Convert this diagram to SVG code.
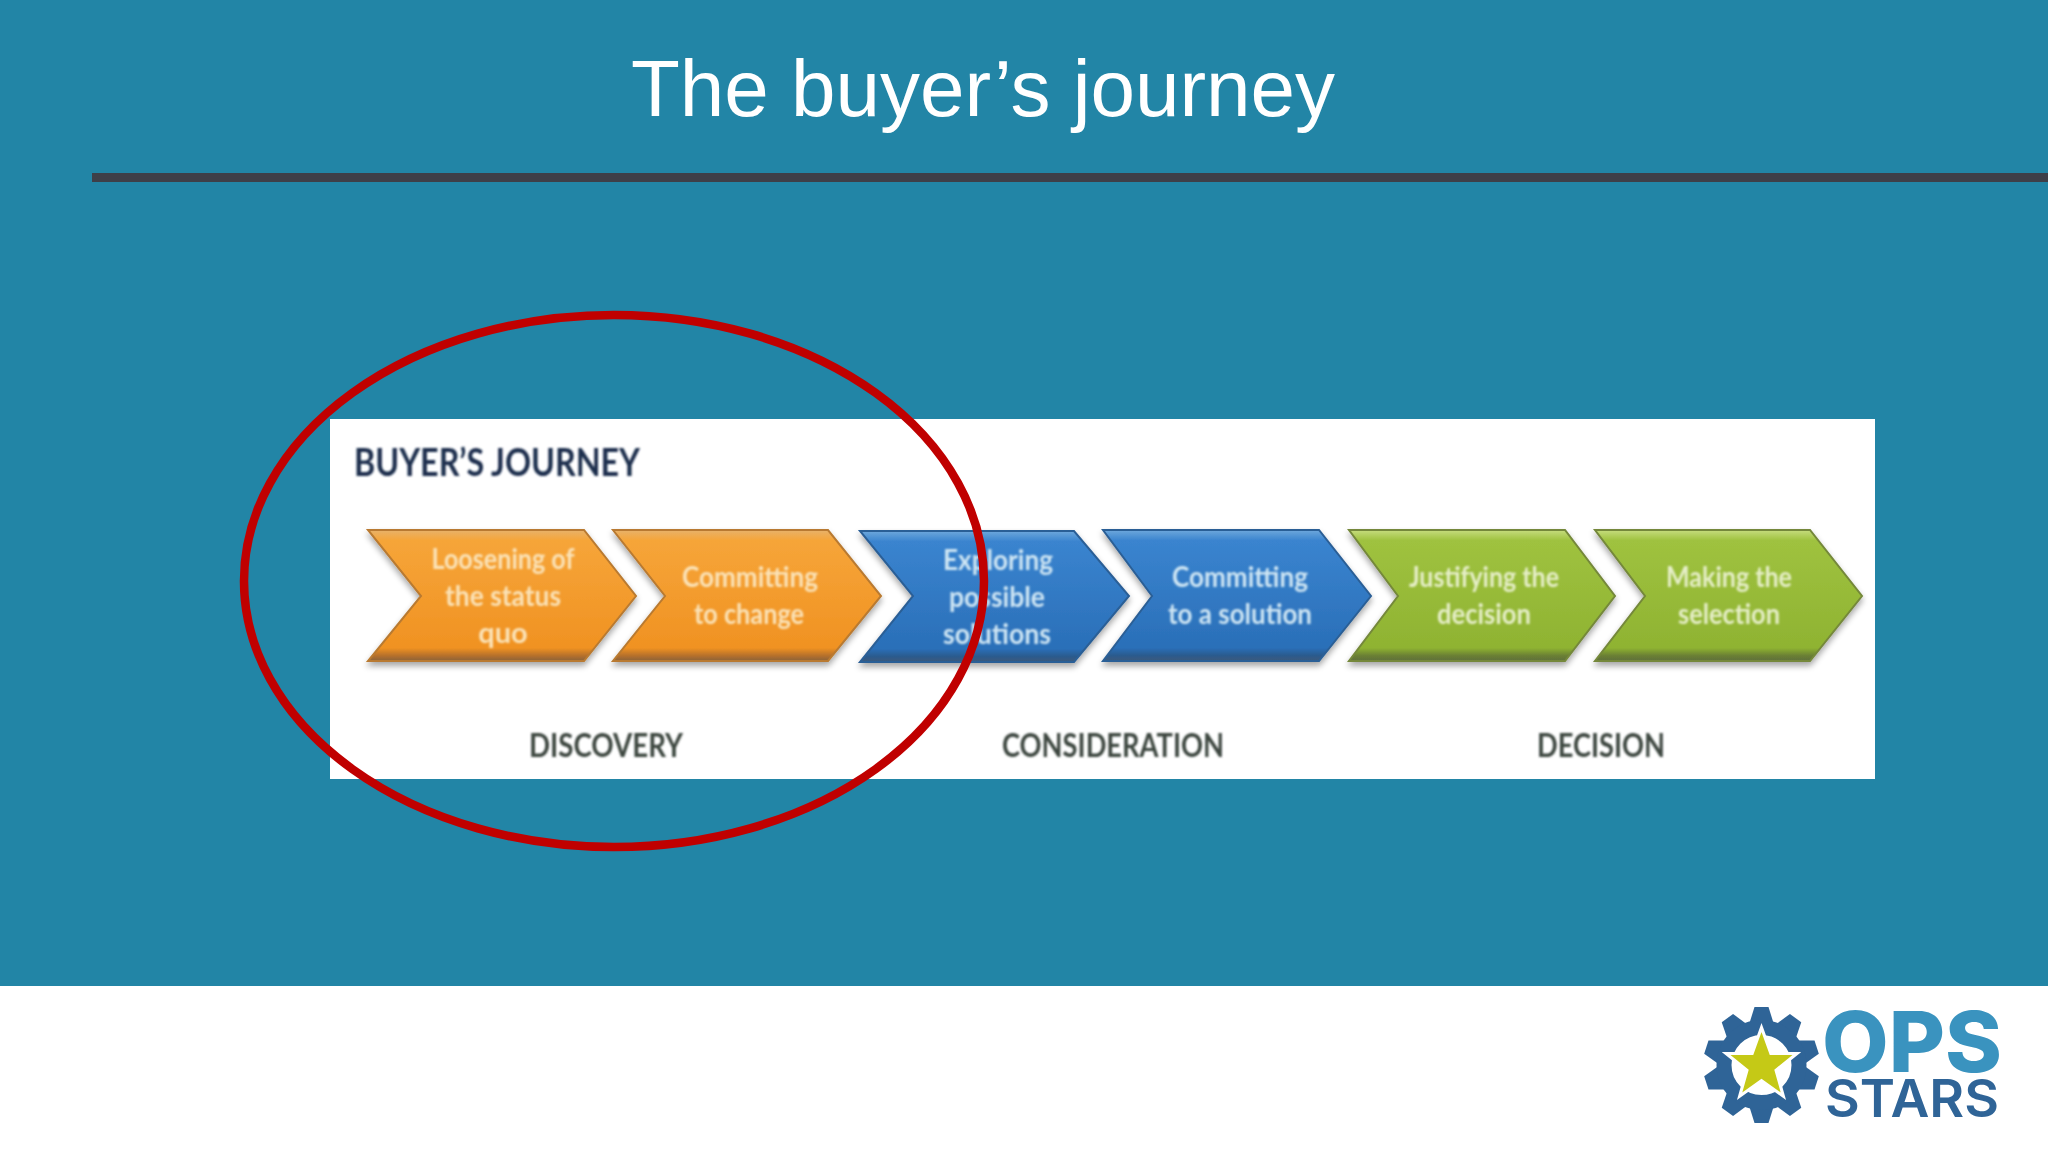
<svg xmlns="http://www.w3.org/2000/svg" width="2048" height="1152" viewBox="0 0 2048 1152">
<defs>
<style>
.t{font-family:"Lato","Open Sans","Liberation Sans",sans-serif;text-anchor:middle}
.lab{font-size:29px;font-weight:700;filter:url(#soft)}
.o{fill:#fbe3b8}.b{fill:#cfe6f4}.g{fill:#e6efc8}
.stage{font-size:32px;font-weight:700;fill:#3d4640;filter:url(#soft)}
.chev{stroke-width:2;filter:url(#shadow)}
</style>
<filter id="soft" x="-5%" y="-15%" width="110%" height="130%"><feGaussianBlur stdDeviation="1"/></filter>
<filter id="shadow" x="-5%" y="-5%" width="110%" height="120%"><feGaussianBlur in="SourceAlpha" stdDeviation="3"/><feOffset dy="4"/><feComponentTransfer><feFuncA type="linear" slope="0.35"/></feComponentTransfer><feMerge><feMergeNode/><feMergeNode in="SourceGraphic"/></feMerge></filter>
<linearGradient id="go" x1="0" y1="0" x2="0" y2="1"><stop offset="0" stop-color="#e8b26a"/><stop offset="0.08" stop-color="#f6a539"/><stop offset="0.9" stop-color="#f09222"/><stop offset="0.96" stop-color="#b5702c"/><stop offset="1" stop-color="#8a6238"/></linearGradient>
<linearGradient id="gb" x1="0" y1="0" x2="0" y2="1"><stop offset="0" stop-color="#6ea8dc"/><stop offset="0.08" stop-color="#3a84cf"/><stop offset="0.9" stop-color="#2a6fb8"/><stop offset="0.96" stop-color="#2c5a8c"/><stop offset="1" stop-color="#3b5a7c"/></linearGradient>
<linearGradient id="gg" x1="0" y1="0" x2="0" y2="1"><stop offset="0" stop-color="#c6dc7e"/><stop offset="0.08" stop-color="#9fc23f"/><stop offset="0.9" stop-color="#8fb332"/><stop offset="0.96" stop-color="#6a7f34"/><stop offset="1" stop-color="#5f6f3c"/></linearGradient>
<path id="tooth" d="M-12-42L-7-58H7L12-42Z" fill="#2f6497"/>
</defs>
<rect id="background" width="2048" height="986" fill="#2285a6"/>
<rect id="footer" y="986" width="2048" height="166" fill="#ffffff"/>
<text id="title" x="983" y="116" style="font-family:'Liberation Sans',Arial,sans-serif;font-size:80px;text-anchor:middle" fill="#ffffff">The buyer’s journey</text>
<rect id="rule" x="92" y="173" width="1956" height="9" fill="#3e3f48"/>
<g id="journey-picture">
<rect x="330" y="419" width="1545" height="360" fill="#ffffff"/>
<text id="picture-title" class="t" x="497" y="476" style="font-size:39px;font-weight:700;filter:url(#soft)" fill="#1e2f4d" textLength="286" lengthAdjust="spacingAndGlyphs">BUYER’S JOURNEY</text>
</g>
<g id="step-1"><polygon class="chev" fill="url(#go)" stroke="#b97a30" points="368,530 584,530 636,596 584,661 368,661 421,596"/>
<text class="t lab o" x="503" y="569" textLength="143" lengthAdjust="spacingAndGlyphs">Loosening of</text><text class="t lab o" x="503" y="606" textLength="116" lengthAdjust="spacingAndGlyphs">the status</text><text class="t lab o" x="503" y="643">quo</text></g>
<g id="step-2"><polygon class="chev" fill="url(#go)" stroke="#b97a30" points="613,530 828,530 881,596 828,661 613,661 665,596"/>
<text class="t lab o" x="750" y="587" textLength="136" lengthAdjust="spacingAndGlyphs">Committing</text><text class="t lab o" x="749" y="624" textLength="110" lengthAdjust="spacingAndGlyphs">to change</text></g>
<g id="step-3"><polygon class="chev" fill="url(#gb)" stroke="#2c5f96" points="860,531 1074,531 1129,596 1074,662 860,662 913,596"/>
<text class="t lab b" x="998" y="570" textLength="110" lengthAdjust="spacingAndGlyphs">Exploring</text><text class="t lab b" x="997" y="607" textLength="96" lengthAdjust="spacingAndGlyphs">possible</text><text class="t lab b" x="997" y="644" textLength="108" lengthAdjust="spacingAndGlyphs">solutions</text></g>
<g id="step-4"><polygon class="chev" fill="url(#gb)" stroke="#2c5f96" points="1103,530 1319,530 1371,596 1319,661 1103,661 1152,596"/>
<text class="t lab b" x="1240" y="587" textLength="136" lengthAdjust="spacingAndGlyphs">Committing</text><text class="t lab b" x="1240" y="624" textLength="144" lengthAdjust="spacingAndGlyphs">to a solution</text></g>
<g id="step-5"><polygon class="chev" fill="url(#gg)" stroke="#74883a" points="1349,530 1565,530 1615,596 1565,661 1349,661 1398,596"/>
<text class="t lab g" x="1484" y="587" textLength="150" lengthAdjust="spacingAndGlyphs">Justifying the</text><text class="t lab g" x="1484" y="624" textLength="94" lengthAdjust="spacingAndGlyphs">decision</text></g>
<g id="step-6"><polygon class="chev" fill="url(#gg)" stroke="#74883a" points="1595,530 1810,530 1862,596 1810,661 1595,661 1645,596"/>
<text class="t lab g" x="1729" y="587" textLength="126" lengthAdjust="spacingAndGlyphs">Making the</text><text class="t lab g" x="1729" y="624" textLength="102" lengthAdjust="spacingAndGlyphs">selection</text></g>
<g id="stages">
<text class="t stage" x="606" y="757" textLength="154" lengthAdjust="spacingAndGlyphs">DISCOVERY</text>
<text class="t stage" x="1113" y="757" textLength="222" lengthAdjust="spacingAndGlyphs">CONSIDERATION</text>
<text class="t stage" x="1601" y="757" textLength="128" lengthAdjust="spacingAndGlyphs">DECISION</text>
</g>
<ellipse id="highlight" cx="614" cy="581" rx="370" ry="266" fill="none" stroke="#c00000" stroke-width="8.5"/>
<g id="logo">
<g transform="translate(1761.5 1065)">
<use href="#tooth"/><use href="#tooth" transform="rotate(36)"/><use href="#tooth" transform="rotate(72)"/><use href="#tooth" transform="rotate(108)"/><use href="#tooth" transform="rotate(144)"/><use href="#tooth" transform="rotate(180)"/><use href="#tooth" transform="rotate(216)"/><use href="#tooth" transform="rotate(252)"/><use href="#tooth" transform="rotate(288)"/><use href="#tooth" transform="rotate(324)"/>
<circle r="37.5" fill="#ffffff" stroke="#2f6497" stroke-width="15"/>
<polygon points="0,-36 9,-11 34,-11 14,5 21,30 0,15 -21,30 -14,5 -34,-11 -9,-11" fill="#c5c916" stroke="#ffffff" stroke-width="3" transform="scale(1.04)"/>
</g>
<text x="1912" y="1072" style="font-family:Inter,'Liberation Sans',sans-serif;font-weight:800;font-size:84px;text-anchor:middle" fill="#3a93bf" textLength="180" lengthAdjust="spacingAndGlyphs">OPS</text>
<text x="1912" y="1117" style="font-family:Inter,'Liberation Sans',sans-serif;font-weight:600;font-size:52px;text-anchor:middle" fill="#2f6497" textLength="174" lengthAdjust="spacingAndGlyphs">STARS</text>
</g>
</svg>
